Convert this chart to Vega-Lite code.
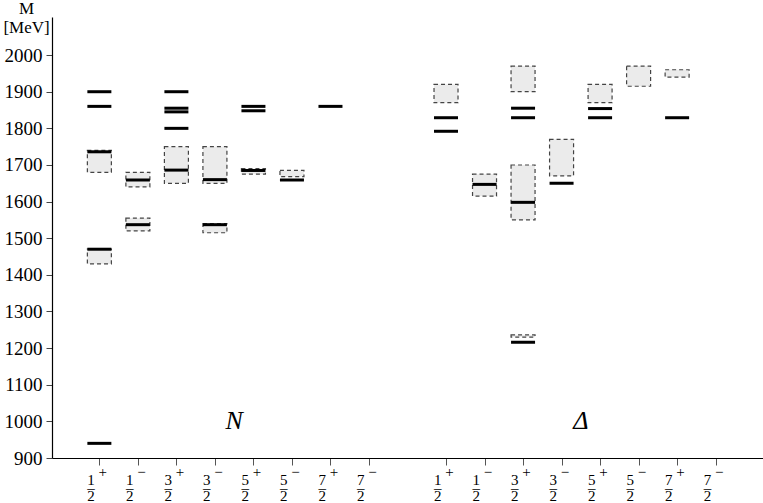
{
  "$schema": "https://vega.github.io/schema/vega-lite/v6.json",
  "width": 711,
  "height": 441,
  "autosize": {"type": "none"},
  "padding": {"left": 52, "top": 17, "right": 0, "bottom": 45},
  "background": "white",
  "config": {"view": {"stroke": null}, "font": "Liberation Serif"},
  "datasets": {
    "ranges": [
      {"group": "N", "state": "1/2+", "pos": 1, "lo": 1430, "hi": 1470},
      {"group": "N", "state": "1/2+", "pos": 1, "lo": 1680, "hi": 1740},
      {"group": "N", "state": "1/2-", "pos": 2, "lo": 1520, "hi": 1555},
      {"group": "N", "state": "1/2-", "pos": 2, "lo": 1640, "hi": 1680},
      {"group": "N", "state": "3/2+", "pos": 3, "lo": 1650, "hi": 1750},
      {"group": "N", "state": "3/2-", "pos": 4, "lo": 1515, "hi": 1540},
      {"group": "N", "state": "3/2-", "pos": 4, "lo": 1650, "hi": 1750},
      {"group": "N", "state": "5/2+", "pos": 5, "lo": 1675, "hi": 1690},
      {"group": "N", "state": "5/2-", "pos": 6, "lo": 1668, "hi": 1685},
      {"group": "Δ", "state": "1/2+", "pos": 10, "lo": 1870, "hi": 1920},
      {"group": "Δ", "state": "1/2-", "pos": 11, "lo": 1615, "hi": 1675},
      {"group": "Δ", "state": "3/2+", "pos": 12, "lo": 1230, "hi": 1236},
      {"group": "Δ", "state": "3/2+", "pos": 12, "lo": 1550, "hi": 1700},
      {"group": "Δ", "state": "3/2+", "pos": 12, "lo": 1900, "hi": 1970},
      {"group": "Δ", "state": "3/2-", "pos": 13, "lo": 1670, "hi": 1770},
      {"group": "Δ", "state": "5/2+", "pos": 14, "lo": 1870, "hi": 1920},
      {"group": "Δ", "state": "5/2-", "pos": 15, "lo": 1915, "hi": 1970},
      {"group": "Δ", "state": "7/2+", "pos": 16, "lo": 1940, "hi": 1960}
    ],
    "levels": [
      {"group": "N", "state": "1/2+", "pos": 1, "mass": 940},
      {"group": "N", "state": "1/2+", "pos": 1, "mass": 1470},
      {"group": "N", "state": "1/2+", "pos": 1, "mass": 1736},
      {"group": "N", "state": "1/2+", "pos": 1, "mass": 1860},
      {"group": "N", "state": "1/2+", "pos": 1, "mass": 1900},
      {"group": "N", "state": "1/2-", "pos": 2, "mass": 1537},
      {"group": "N", "state": "1/2-", "pos": 2, "mass": 1659},
      {"group": "N", "state": "3/2+", "pos": 3, "mass": 1686},
      {"group": "N", "state": "3/2+", "pos": 3, "mass": 1800},
      {"group": "N", "state": "3/2+", "pos": 3, "mass": 1845},
      {"group": "N", "state": "3/2+", "pos": 3, "mass": 1855},
      {"group": "N", "state": "3/2+", "pos": 3, "mass": 1900},
      {"group": "N", "state": "3/2-", "pos": 4, "mass": 1537},
      {"group": "N", "state": "3/2-", "pos": 4, "mass": 1660},
      {"group": "N", "state": "5/2+", "pos": 5, "mass": 1685},
      {"group": "N", "state": "5/2+", "pos": 5, "mass": 1848},
      {"group": "N", "state": "5/2+", "pos": 5, "mass": 1860},
      {"group": "N", "state": "5/2-", "pos": 6, "mass": 1659},
      {"group": "N", "state": "7/2+", "pos": 7, "mass": 1860},
      {"group": "Δ", "state": "1/2+", "pos": 10, "mass": 1792},
      {"group": "Δ", "state": "1/2+", "pos": 10, "mass": 1829},
      {"group": "Δ", "state": "1/2-", "pos": 11, "mass": 1647},
      {"group": "Δ", "state": "3/2+", "pos": 12, "mass": 1216},
      {"group": "Δ", "state": "3/2+", "pos": 12, "mass": 1598},
      {"group": "Δ", "state": "3/2+", "pos": 12, "mass": 1829},
      {"group": "Δ", "state": "3/2+", "pos": 12, "mass": 1855},
      {"group": "Δ", "state": "3/2-", "pos": 13, "mass": 1650},
      {"group": "Δ", "state": "5/2+", "pos": 14, "mass": 1829},
      {"group": "Δ", "state": "5/2+", "pos": 14, "mass": 1854},
      {"group": "Δ", "state": "7/2+", "pos": 16, "mass": 1829}
    ],
    "names": [
      {"name": "N", "pos": 4.5, "mass": 980},
      {"name": "Δ", "pos": 13.5, "mass": 980}
    ]
  },
  "layer": [
    {
      "data": {"name": "ranges"},
      "mark": {"type": "bar", "width": 24, "fill": "#ebebeb", "stroke": "#444444", "strokeDash": [4, 3], "strokeWidth": 1.2},
      "encoding": {
        "x": {
          "field": "pos", "type": "quantitative",
          "scale": {"domain": [-0.1, 18.1], "nice": false, "zero": false},
          "axis": {
            "values": [1, 2, 3, 4, 5, 6, 7, 8, 10, 11, 12, 13, 14, 15, 16, 17],
            "title": null,
            "grid": false,
            "domainColor": "black",
            "domainWidth": 1.2,
            "tickColor": "#555555",
            "tickSize": 7,
            "labelExpr": "['\u200b\u00a0\u00a0\u00a0' + ((datum.value < 9 ? datum.value - 1 : datum.value - 10) % 2 == 0 ? '+' : '\u2212'), ['1','1','3','3','5','5','7','7'][datum.value < 9 ? datum.value - 1 : datum.value - 10], '\u2013', '2']",
            "labelAlign": "left",
            "labelOffset": -12.5,
            "labelFont": "Liberation Serif",
            "labelFontSize": 15,
            "labelLineHeight": 8,
            "labelBaseline": "top",
            "labelPadding": -1,
            "labelColor": "black",
            "labelOverlap": false,
            "labelBound": false,
            "labelFlush": false
          }
        },
        "y": {
          "field": "lo", "type": "quantitative",
          "scale": {"domain": [900, 2104], "nice": false, "zero": false},
          "axis": {
            "values": [900, 1000, 1100, 1200, 1300, 1400, 1500, 1600, 1700, 1800, 1900, 2000],
            "format": "d",
            "title": ["M", "[MeV]"],
            "titleAngle": 0,
            "titleX": -26,
            "titleY": -4,
            "titleAlign": "center",
            "titleBaseline": "alphabetic",
            "titleFont": "Liberation Serif",
            "titleFontWeight": "normal",
            "titleFontSize": 17,
            "titleLineHeight": 19,
            "titleColor": "black",
            "grid": false,
            "domainColor": "black",
            "domainWidth": 1.2,
            "tickColor": "#444444",
            "tickSize": 6,
            "labelPadding": 4,
            "labelFont": "Liberation Serif",
            "labelFontSize": 19,
            "labelColor": "black"
          }
        },
        "y2": {"field": "hi"}
      }
    },
    {
      "data": {"name": "levels"},
      "mark": {"type": "tick", "orient": "horizontal", "size": 24, "thickness": 3, "color": "black", "opacity": 1},
      "encoding": {
        "x": {"field": "pos", "type": "quantitative"},
        "y": {"field": "mass", "type": "quantitative"}
      }
    },
    {
      "data": {"name": "names"},
      "mark": {"type": "text", "fontStyle": "italic", "fontSize": 26, "baseline": "alphabetic", "align": "center", "font": "Liberation Serif", "color": "black"},
      "encoding": {
        "x": {"field": "pos", "type": "quantitative"},
        "y": {"field": "mass", "type": "quantitative"},
        "text": {"field": "name"}
      }
    }
  ]
}
